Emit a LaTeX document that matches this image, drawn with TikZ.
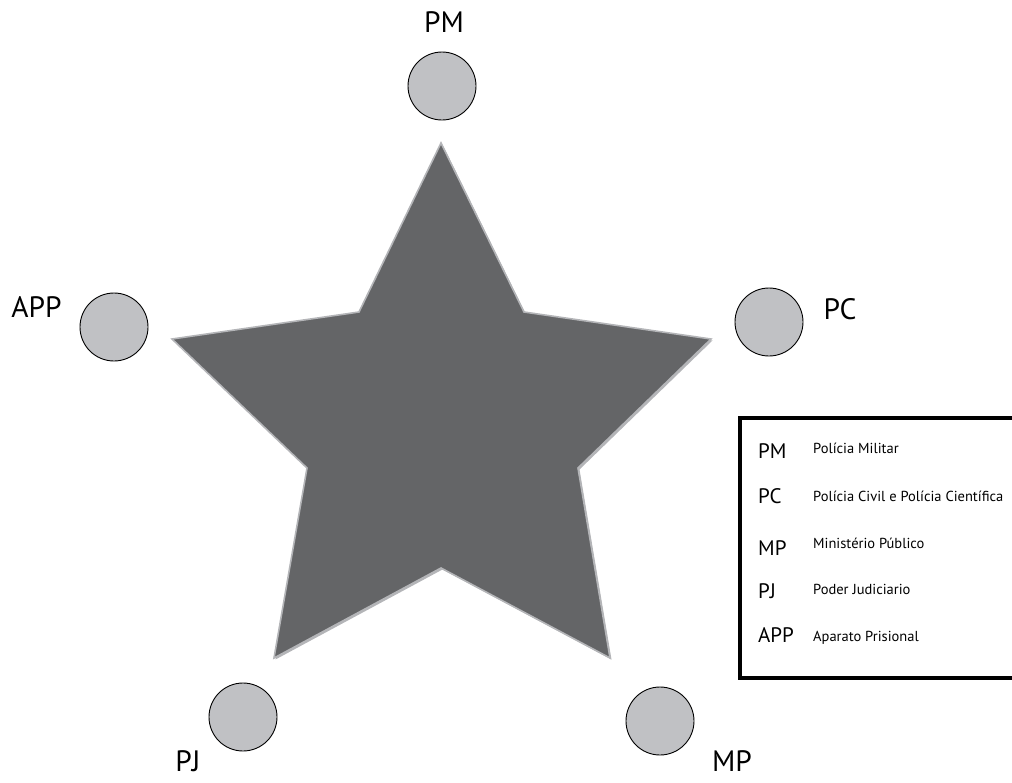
\documentclass[tikz,border=0pt]{standalone}
\usepackage{fontspec}
\setmainfont{PT Sans}
\definecolor{stargray}{HTML}{646567}
\definecolor{staredge}{HTML}{B4B5B8}
\definecolor{circgray}{HTML}{C0C1C4}
\tikzset{
  agent/.style={circle, draw=black, line width=0.9pt, fill=circgray, minimum size=68pt, inner sep=0pt},
  biglabel/.style={font=\fontsize{29.5}{32}\selectfont, inner sep=0pt, anchor=base},
  abbr/.style={font=\fontsize{21}{24}\selectfont, anchor=base west, inner sep=0pt},
  desc/.style={font=\fontsize{14.5}{16}\selectfont, anchor=base west, inner sep=0pt},
}
\begin{document}
\begin{tikzpicture}[x=1pt,y=-1pt]
\useasboundingbox (0,0) rectangle (1012,782);
\clip (0,0) rectangle (1012,782);
% star
\coordinate (s1) at (441,143);
\coordinate (s2) at (524,312);
\coordinate (s3) at (711,339);
\coordinate (s4) at (578,468);
\coordinate (s5) at (610,658);
\coordinate (s6) at (441,568);
\coordinate (s7) at (274,658);
\coordinate (s8) at (307,468);
\coordinate (s9) at (172,339);
\coordinate (s10) at (359,312);
\fill[staredge] ([xshift=1.5pt,yshift=-1.5pt]s1) -- ([xshift=1.5pt,yshift=-1.5pt]s2) -- ([xshift=1.5pt,yshift=-1.5pt]s3) -- ([xshift=1.5pt,yshift=-1.5pt]s4) -- ([xshift=1.5pt,yshift=-1.5pt]s5) -- ([xshift=1.5pt,yshift=-1.5pt]s6) -- ([xshift=1.5pt,yshift=-1.5pt]s7) -- ([xshift=1.5pt,yshift=-1.5pt]s8) -- ([xshift=1.5pt,yshift=-1.5pt]s9) -- ([xshift=1.5pt,yshift=-1.5pt]s10) -- cycle;
\filldraw[fill=stargray, draw=staredge, line width=1.6pt, line join=miter] (s1) -- (s2) -- (s3) -- (s4) -- (s5) -- (s6) -- (s7) -- (s8) -- (s9) -- (s10) -- cycle;
% circles
\node[agent] (pm) at (442,86) {};
\node[agent] (pc) at (769,322) {};
\node[agent] (app) at (114,327) {};
\node[agent] (pj) at (243,717) {};
\node[agent] (mp) at (660,721) {};
% labels
\node[biglabel] (lpm) at (444,32) {PM};
\node[biglabel] (lpc) at (840,319) {PC};
\node[biglabel] (lapp) at (36.5,317) {APP};
\node[biglabel] (lpj) at (188,771) {PJ};
\node[biglabel] (lmp) at (732,771) {MP};
% legend
\draw[line width=4pt] (740,418) rectangle (1030,678);
\node[abbr] (a1) at (758,458) {PM};
\node[abbr] (a2) at (758,503) {PC};
\node[abbr] (a3) at (758,555) {MP};
\node[abbr] (a4) at (758,598) {PJ};
\node[abbr] (a5) at (758,642) {APP};
\node[desc] (d1) at (813,453) {Polícia Militar};
\node[desc] (d2) at (813,501) {Polícia Civil e Polícia Científica};
\node[desc] (d3) at (813,548) {Ministério Público};
\node[desc] (d4) at (813,594) {Poder Judiciario};
\node[desc] (d5) at (813,641) {Aparato Prisional};
\end{tikzpicture}
\end{document}
